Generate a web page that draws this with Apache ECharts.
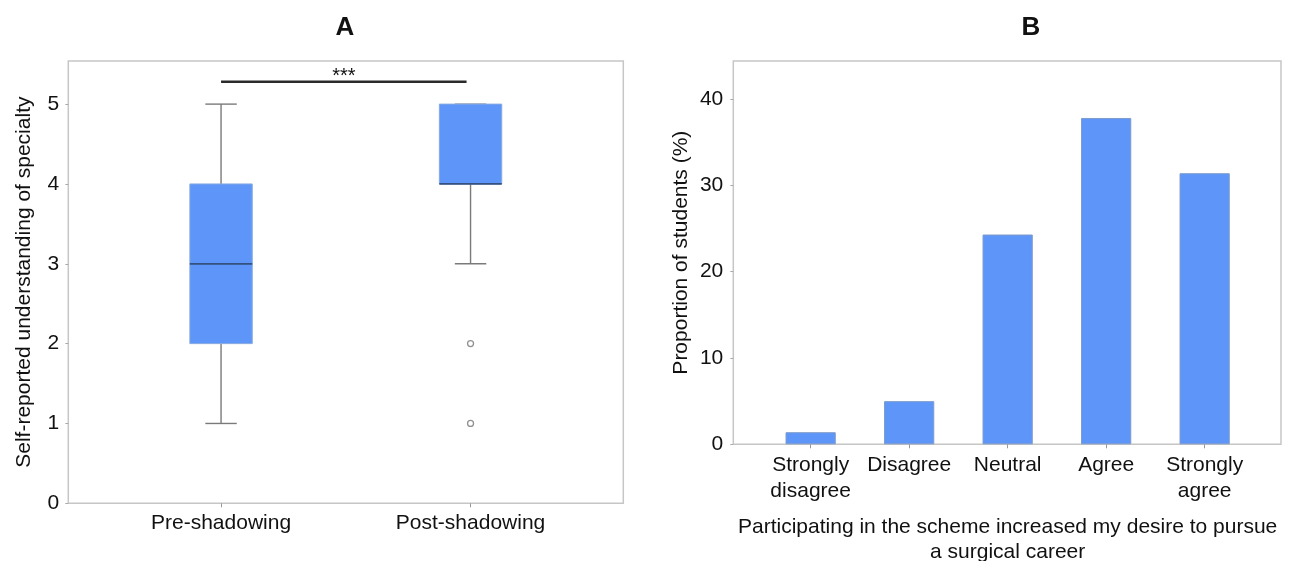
<!DOCTYPE html>
<html>
<head>
<meta charset="utf-8">
<script src="https://cdn.jsdelivr.net/npm/echarts@6/dist/echarts.min.js"></script>
<style>
html,body{margin:0;padding:0;background:#fff;}
#chart{width:1293px;height:561px;}
</style>
</head>
<body>
<div id="chart"></div>
<script>
// ---------- Panel A data ----------
const boxCategories = ['Pre-shadowing', 'Post-shadowing'];
const boxMin    = [1, 3];
const boxQ1     = [2, 4];
const boxMedian = [3, 4];
const boxQ3     = [4, 5];
const boxMax    = [5, 5];
const outlierCategory = ['Post-shadowing', 'Post-shadowing'];
const outlierValue    = [2, 1];
const sigFrom = 'Pre-shadowing';
const sigTo   = 'Post-shadowing';
const sigLevel = 5.28;
const sigLabel = '***';
const yTicksA = [0, 1, 2, 3, 4, 5];
const yNameA = 'Self-reported understanding of specialty';

// ---------- Panel B data ----------
const barCategories = ['Strongly\ndisagree', 'Disagree', 'Neutral', 'Agree', 'Strongly\nagree'];
const barValues = [1.4, 5.0, 24.3, 37.8, 31.4];
const yTicksB = [0, 10, 20, 30, 40];
const yNameB = 'Proportion of students (%)';
const xNameB = 'Participating in the scheme increased my desire to pursue\na surgical career';

const FONT = 'Liberation Sans, Arial, Helvetica, sans-serif';
const TXT = '#111111';
const FRAME = '#c6c6c6';
const BLUE = '#5d96f8';
const FS = 21;

const chart = echarts.init(document.getElementById('chart'), null, {renderer: 'canvas'});

const boxData = boxCategories.map((c, i) => [i, boxMin[i], boxQ1[i], boxMedian[i], boxQ3[i], boxMax[i]]);
const outlierData = outlierValue.map((v, i) => [boxCategories.indexOf(outlierCategory[i]), v]);
const sigData = [[boxCategories.indexOf(sigFrom), boxCategories.indexOf(sigTo), sigLevel]];

const yMaxA = 5.54;
const yMaxB = 44.4;

function boxRender(params, api) {
  const idx = api.value(0);
  const band = api.size([1, 0])[0];
  const half = band * 0.125;
  const capHalf = band * 0.063;
  const x = api.coord([idx, 0])[0];
  const yMin = api.coord([idx, api.value(1)])[1];
  const yQ1 = api.coord([idx, api.value(2)])[1];
  const yMed = api.coord([idx, api.value(3)])[1];
  const yQ3 = api.coord([idx, api.value(4)])[1];
  const yMx = api.coord([idx, api.value(5)])[1];
  const wStyle = {stroke: '#7a7a7a', lineWidth: 1.4};
  return {
    type: 'group',
    children: [
      {type: 'line', shape: {x1: x, y1: yQ1, x2: x, y2: yMin}, style: wStyle},
      {type: 'line', shape: {x1: x, y1: yQ3, x2: x, y2: yMx}, style: wStyle},
      {type: 'line', shape: {x1: x - capHalf, y1: yMin, x2: x + capHalf, y2: yMin}, style: wStyle},
      {type: 'line', shape: {x1: x - capHalf, y1: yMx, x2: x + capHalf, y2: yMx}, style: wStyle},
      {type: 'rect', shape: {x: x - half, y: yQ3, width: half * 2, height: yQ1 - yQ3},
        style: {fill: BLUE, stroke: '#86a9e0', lineWidth: 1}},
      {type: 'line', shape: {x1: x - half, y1: yMed, x2: x + half, y2: yMed},
        style: {stroke: '#34507e', lineWidth: 1.8}}
    ]
  };
}

function sigRender(params, api) {
  const p1 = api.coord([api.value(0), api.value(2)]);
  const p2 = api.coord([api.value(1), api.value(2)]);
  const x2 = p2[0] - 4;
  return {
    type: 'group',
    children: [
      {type: 'line', shape: {x1: p1[0], y1: p1[1], x2: x2, y2: p2[1]},
        style: {stroke: '#2a2a2a', lineWidth: 2.6}},
      {type: 'text', x: (p1[0] + x2) / 2, y: p1[1] - 5,
        style: {text: sigLabel, textAlign: 'center', textVerticalAlign: 'middle',
          font: '20px ' + FONT, fill: TXT}}
    ]
  };
}

const axisLabelBase = {color: TXT, fontFamily: FONT, fontSize: FS};

const option = {
  backgroundColor: '#ffffff',
  animation: false,
  graphic: [
    {type: 'text', x: 345, y: 28, style: {text: 'A', textAlign: 'center', textVerticalAlign: 'middle', font: 'bold 26px ' + FONT, fill: '#111'}},
    {type: 'text', x: 1031, y: 28, style: {text: 'B', textAlign: 'center', textVerticalAlign: 'middle', font: 'bold 26px ' + FONT, fill: '#111'}}
  ],
  grid: [
    {left: 68.3, top: 61, width: 555, height: 442.3, show: true, borderColor: FRAME, borderWidth: 1.5, backgroundColor: 'transparent', outerBoundsMode: 'none', containLabel: false},
    {left: 96.3, top: 61, width: 499, height: 442.3, outerBoundsMode: 'none', containLabel: false},
    {left: 733.3, top: 61, width: 547.7, height: 383.3, show: true, borderColor: FRAME, borderWidth: 1.5, backgroundColor: 'transparent', outerBoundsMode: 'none', containLabel: false},
    {left: 761.4, top: 61, width: 492.5, height: 383.3, outerBoundsMode: 'none', containLabel: false}
  ],
  xAxis: [
    {gridIndex: 0, type: 'value', show: false, min: 0, max: 1},
    {gridIndex: 1, type: 'category', data: boxCategories,
      axisLine: {show: false},
      axisTick: {show: true, alignWithLabel: true, length: 4, lineStyle: {color: '#999'}},
      axisLabel: Object.assign({margin: 9}, axisLabelBase)},
    {gridIndex: 2, type: 'value', show: false, min: 0, max: 1},
    {gridIndex: 3, type: 'category', data: barCategories,
      axisLine: {show: false},
      axisTick: {show: true, alignWithLabel: true, length: 4, lineStyle: {color: '#999'}},
      axisLabel: Object.assign({margin: 8, lineHeight: 26, interval: 0}, axisLabelBase),
      name: xNameB, nameLocation: 'middle', nameGap: 70,
      nameTextStyle: {color: TXT, fontFamily: FONT, fontSize: FS, lineHeight: 25, verticalAlign: 'top'}}
  ],
  yAxis: [
    {gridIndex: 0, type: 'value', min: 0, max: yMaxA, interval: 1,
      axisLine: {show: false}, splitLine: {show: false},
      axisTick: {show: true, length: 3, lineStyle: {color: '#aaa'}},
      axisLabel: Object.assign({margin: 9, showMaxLabel: false,
        formatter: v => (yTicksA.indexOf(v) >= 0 ? String(v) : '')}, axisLabelBase),
      name: yNameA, nameLocation: 'middle', nameGap: 34,
      nameTextStyle: {color: TXT, fontFamily: FONT, fontSize: FS}},
    {gridIndex: 1, type: 'value', min: 0, max: yMaxA, show: false},
    {gridIndex: 2, type: 'value', min: 0, max: yMaxB, interval: 10,
      axisLine: {show: false}, splitLine: {show: false},
      axisTick: {show: true, length: 3, lineStyle: {color: '#aaa'}},
      axisLabel: Object.assign({margin: 10, showMaxLabel: false,
        formatter: v => (yTicksB.indexOf(v) >= 0 ? String(v) : '')}, axisLabelBase),
      name: yNameB, nameLocation: 'middle', nameGap: 42,
      nameTextStyle: {color: TXT, fontFamily: FONT, fontSize: FS}},
    {gridIndex: 3, type: 'value', min: 0, max: yMaxB, show: false}
  ],
  series: [
    {type: 'custom', xAxisIndex: 1, yAxisIndex: 1, data: boxData,
      encode: {x: 0, y: [1, 2, 3, 4, 5]}, renderItem: boxRender, z: 3},
    {type: 'scatter', xAxisIndex: 1, yAxisIndex: 1, data: outlierData,
      symbol: 'circle', symbolSize: 6,
      itemStyle: {color: '#ffffff', borderColor: '#777', borderWidth: 1.3}, z: 4},
    {type: 'custom', xAxisIndex: 1, yAxisIndex: 1, data: sigData,
      encode: {x: [0, 1], y: 2}, renderItem: sigRender, clip: false, z: 5},
    {type: 'bar', xAxisIndex: 3, yAxisIndex: 3, data: barValues, barWidth: '51%',
      itemStyle: {color: BLUE, borderColor: '#7d9bcb', borderWidth: 1}}
  ]
};
chart.setOption(option);
</script>
</body>
</html>
